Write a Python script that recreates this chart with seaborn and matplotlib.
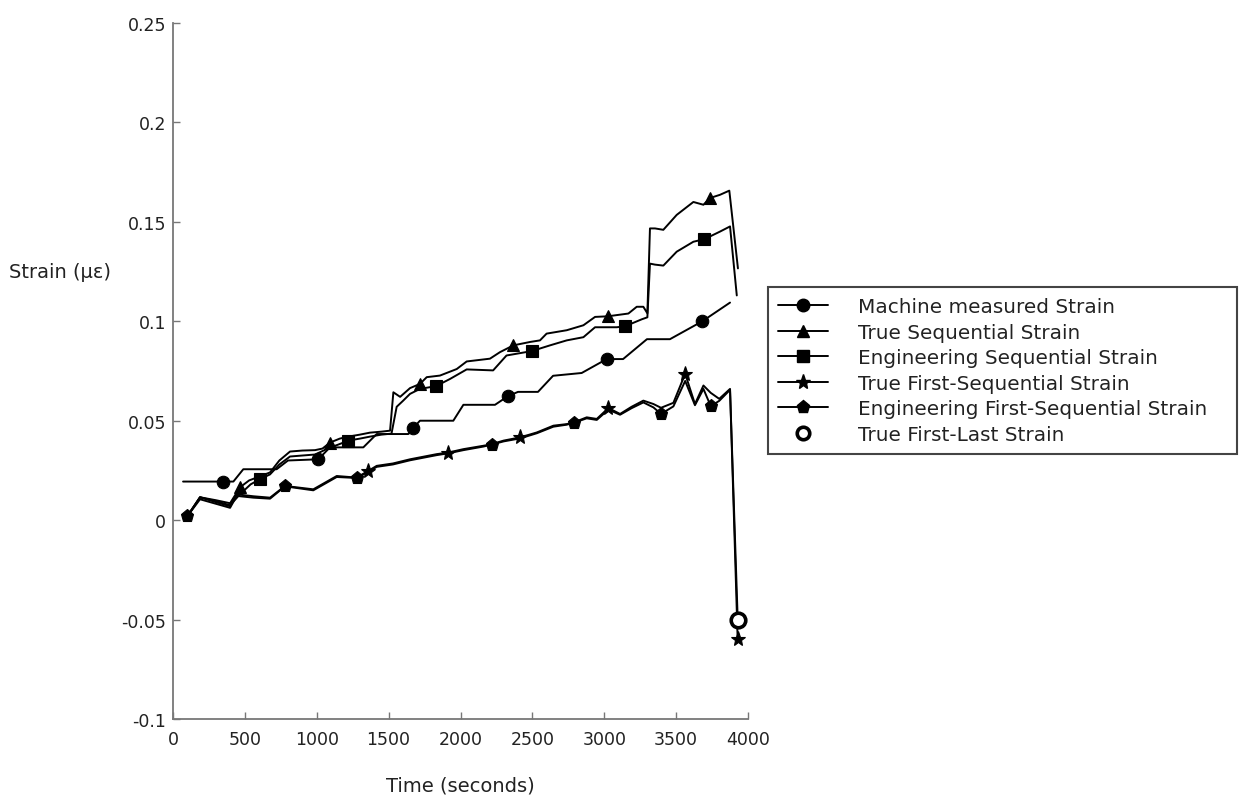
import numpy as np
import matplotlib
matplotlib.use("Agg")
import matplotlib.pyplot as plt
from matplotlib.lines import Line2D
import seaborn as sns

# ---------------- data ----------------
series_labels = ["Machine measured Strain", "True Sequential Strain",
                 "Engineering Sequential Strain", "True First-Sequential Strain",
                 "Engineering First-Sequential Strain", "True First-Last Strain"]

machine_t = [70, 348, 420, 489, 721, 800, 1011, 1092, 1324, 1417, 1637, 1670, 1718, 1950,
             2020, 2240, 2331, 2400, 2539, 2644, 2843, 3017, 3131, 3297, 3457, 3682, 3875]
machine_y = [0.0194, 0.0194, 0.0194, 0.0256, 0.0256, 0.0300, 0.0306, 0.0366, 0.0366, 0.0433,
             0.0433, 0.0463, 0.0500, 0.0500, 0.0580, 0.0580, 0.0624, 0.0645, 0.0645, 0.0726,
             0.0740, 0.0810, 0.0810, 0.0910, 0.0910, 0.1000, 0.1094]
machine_mk = [348, 1011, 1670, 2331, 3017, 3682]

ts_t = [100, 188, 300, 397, 466, 530, 605, 675, 740, 814, 900, 988, 1040, 1092, 1160, 1220,
        1300, 1370, 1450, 1510, 1533, 1580, 1649, 1718, 1765, 1857, 1974, 2043, 2205, 2275,
        2368, 2484, 2553, 2599, 2739, 2855, 2936, 3024, 3168, 3226, 3272, 3300, 3318, 3353,
        3411, 3504, 3620, 3690, 3736, 3805, 3870, 3930]
ts_y = [0.002, 0.0115, 0.0100, 0.0085, 0.0165, 0.0200, 0.0220, 0.0240, 0.0300, 0.0345,
        0.0350, 0.0352, 0.0360, 0.0390, 0.0410, 0.0420, 0.0430, 0.0440, 0.0445, 0.0450,
        0.0643, 0.0620, 0.0664, 0.0685, 0.0719, 0.0727, 0.0760, 0.0798, 0.0812, 0.0845,
        0.0879, 0.0896, 0.0904, 0.0938, 0.0955, 0.0980, 0.1022, 0.1025, 0.1039, 0.1073,
        0.1073, 0.1040, 0.1467, 0.1467, 0.1460, 0.1535, 0.1600, 0.1586, 0.1620, 0.1636,
        0.1657, 0.1266]
ts_mk = [466, 1092, 1718, 2368, 3024, 3736]

es_t = [100, 188, 300, 397, 466, 540, 605, 675, 740, 814, 900, 988, 1092, 1150, 1220, 1300,
        1370, 1450, 1520, 1556, 1600, 1649, 1718, 1830, 1927, 2043, 2227, 2320, 2495, 2623,
        2739, 2855, 2936, 3087, 3145, 3261, 3300, 3318, 3353, 3411, 3504, 3620, 3697, 3805,
        3875, 3922]
es_y = [0.002, 0.0115, 0.0095, 0.0075, 0.0130, 0.0180, 0.0206, 0.0230, 0.0280, 0.0320,
        0.0325, 0.0330, 0.0365, 0.0380, 0.0400, 0.0410, 0.0420, 0.0430, 0.0435, 0.0570,
        0.0600, 0.0635, 0.0660, 0.0674, 0.0710, 0.0758, 0.0753, 0.0828, 0.0850, 0.0879,
        0.0904, 0.0920, 0.0970, 0.0970, 0.0975, 0.1010, 0.1020, 0.1290, 0.1285, 0.1280,
        0.1350, 0.1400, 0.1413, 0.1451, 0.1477, 0.1130]
es_mk = [605, 1220, 1830, 2495, 3145, 3697]

tf_t = [100, 188, 300, 397, 443, 560, 675, 779, 976, 1139, 1278, 1359, 1417, 1530, 1649,
        1835, 1915, 2020, 2159, 2217, 2300, 2414, 2531, 2646, 2739, 2790, 2878, 2948, 3029,
        3110, 3190, 3272, 3342, 3395, 3481, 3563, 3631, 3690, 3741, 3800, 3875, 3928]
tf_y = [0.002, 0.0115, 0.0090, 0.0070, 0.0130, 0.0120, 0.0113, 0.0172, 0.0155, 0.0222,
        0.0214, 0.0248, 0.0273, 0.0285, 0.0306, 0.0332, 0.0340, 0.0357, 0.0374, 0.0382,
        0.0400, 0.0416, 0.0441, 0.0475, 0.0483, 0.0492, 0.0517, 0.0509, 0.0564, 0.0534,
        0.0570, 0.0601, 0.0584, 0.0565, 0.0590, 0.0736, 0.0584, 0.0677, 0.0640, 0.0610,
        0.0660, -0.0599]
tf_mk = [1359, 1915, 2414, 3029, 3563, 3928]

ef_t = [100, 188, 300, 397, 443, 560, 675, 779, 976, 1139, 1278, 1359, 1417, 1530, 1649,
        1835, 1915, 2020, 2159, 2217, 2300, 2414, 2531, 2646, 2739, 2790, 2878, 2948, 3029,
        3110, 3190, 3272, 3342, 3395, 3481, 3563, 3631, 3690, 3741, 3800, 3875, 3928]
ef_y = [0.002, 0.0105, 0.0082, 0.0062, 0.0122, 0.0113, 0.0108, 0.0170, 0.0150, 0.0217,
        0.0212, 0.0243, 0.0268, 0.0280, 0.0301, 0.0327, 0.0336, 0.0352, 0.0370, 0.0380,
        0.0396, 0.0411, 0.0437, 0.0470, 0.0480, 0.0490, 0.0512, 0.0504, 0.0556, 0.0530,
        0.0563, 0.0592, 0.0567, 0.0534, 0.0572, 0.0700, 0.0578, 0.0660, 0.0573, 0.0600,
        0.0655, -0.0490]
ef_mk = [100, 779, 1278, 2217, 2790, 3395, 3741]

fl_t = [3928]
fl_y = [-0.0502]

x_ticks = [0, 500, 1000, 1500, 2000, 2500, 3000, 3500, 4000]
x_ticklabels = ["0", "500", "1000", "1500", "2000", "2500", "3000", "3500", "4000"]
y_ticks = [-0.1, -0.05, 0, 0.05, 0.1, 0.15, 0.2, 0.25]
y_ticklabels = ["-0.1", "-0.05", "0", "0.05", "0.1", "0.15", "0.2", "0.25"]

# ---------------- style ----------------
sns.set_theme(style="white")
plt.rcParams['font.family'] = ['DejaVu Sans']

W, H = 1242, 803
fig = plt.figure(figsize=(W / 100, H / 100), dpi=100)
fig.patch.set_facecolor("white")
ax = fig.add_axes([173 / W, 1 - 720 / H, 575 / W, 696 / H])

LW = 1.4
styles = [
    (machine_t, machine_y, machine_mk, "o", 9),
    (ts_t, ts_y, ts_mk, "^", 9),
    (es_t, es_y, es_mk, "s", 8.5),
    (tf_t, tf_y, tf_mk, "*", 11),
    (ef_t, ef_y, ef_mk, "p", 9.5),
]
for t, y, mk, m, ms in styles:
    t_arr = np.asarray(t)
    idx = [int(np.argmin(np.abs(t_arr - v))) for v in mk]
    sns.lineplot(x=t, y=y, ax=ax, color="black", linewidth=LW, marker=m,
                 markevery=idx, markersize=ms, markerfacecolor="black",
                 markeredgecolor="black", markeredgewidth=0.8,
                 sort=False, estimator=None)

sns.scatterplot(x=fl_t, y=fl_y, ax=ax, marker="o", s=110, facecolor="white",
                edgecolor="black", linewidth=2.6, zorder=5)

ax.set_xlim(0, 4000)
ax.set_ylim(-0.1, 0.25)
ax.set_xticks(x_ticks)
ax.set_xticklabels(x_ticklabels)
ax.set_yticks(y_ticks)
ax.set_yticklabels(y_ticklabels)
ax.tick_params(axis="both", direction="in", length=5, width=1.0, color="#777777",
               labelsize=12.5, labelcolor="#222222", bottom=True, left=True)
ax.tick_params(axis="x", pad=8)
ax.tick_params(axis="y", pad=5)
for s in ["top", "right"]:
    ax.spines[s].set_visible(False)
for s in ["left", "bottom"]:
    ax.spines[s].set_color("#777777")
    ax.spines[s].set_linewidth(1.3)
ax.set_facecolor("white")
ax.grid(False)

ax.set_xlabel("Time (seconds)", fontsize=14, color="#222222", va="center")
ax.xaxis.set_label_coords((460 - 173) / 575, -(786 - 720) / 696)
ax.set_ylabel("Strain (με)", fontsize=14, color="#222222", rotation=0, ha="center", va="center")
ax.yaxis.set_label_coords((60 - 173) / 575, (720 - 273) / 696)

handles = []
for _, _, _, m, ms in styles:
    handles.append(Line2D([], [], color="black", linewidth=LW, marker=m, markersize=ms,
                          markerfacecolor="black", markeredgecolor="black"))
handles.append(Line2D([], [], linestyle="none", marker="o", markersize=9,
                      markerfacecolor="white", markeredgecolor="black", markeredgewidth=2.6))
leg_x0, leg_x1, leg_top = 768, 1237, 288
leg = fig.legend(handles, series_labels, loc="upper left",
                 bbox_to_anchor=(leg_x0 / W, 1 - (leg_top + 170) / H,
                                 (leg_x1 - leg_x0) / W, 170 / H),
                 bbox_transform=fig.transFigure, mode="expand",
                 frameon=True, fancybox=False, edgecolor="#444444", framealpha=1,
                 fontsize=14.4, handlelength=2.5, handletextpad=1.5, labelspacing=0.33,
                 borderpad=0.5, borderaxespad=0)
leg.get_frame().set_linewidth(1.5)
for txt in leg.get_texts():
    txt.set_color("#222222")

fig.savefig("out.png", dpi=100, facecolor="white")
